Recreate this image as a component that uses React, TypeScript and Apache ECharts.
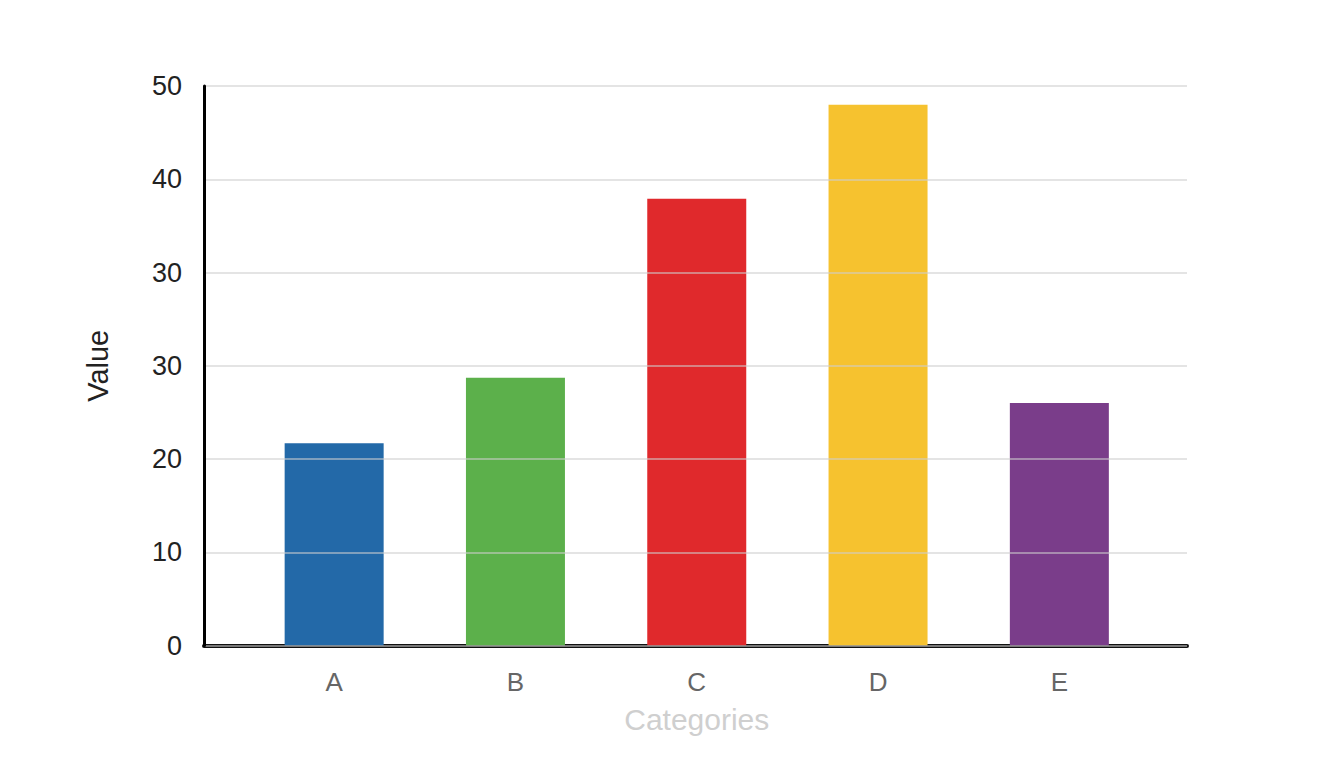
import React, { useEffect, useRef } from 'react';
import * as echarts from 'echarts';

const categories = ['A', 'B', 'C', 'D', 'E'];
// bar heights in axis units (one gridline step = 10)
const values = [21.7, 28.7, 47.9, 58.0, 26.0];
const barColors = ['#2369a8', '#5cb04b', '#e0292c', '#f6c22f', '#7a3d8a'];
// the tick labels as printed on the original (note the repeated 30)
const tickLabels = ['0', '10', '20', '30', '30', '40', '50'];

const FONT = '"Liberation Sans", Arial, Helvetica, sans-serif';

const App: React.FC = () => {
  const chartRef = useRef<HTMLDivElement>(null);

  useEffect(() => {
    if (!chartRef.current) return;
    const chart = echarts.init(chartRef.current, undefined, { renderer: 'svg' });

    const option = {
      animation: false,
      backgroundColor: '#ffffff',
      textStyle: { fontFamily: FONT },
      grid: [
        // outer frame: axis lines, gridlines, y labels
        { left: 204, right: 157, top: 86, bottom: 122.5 },
        // inner band holding the bars
        { left: 243.5, right: 194, top: 86, bottom: 122.5 }
      ],
      xAxis: [
        {
          gridIndex: 0,
          type: 'value',
          min: 0,
          max: 1,
          axisLine: { show: true, lineStyle: { color: '#111111', width: 4 } },
          axisTick: { show: false },
          axisLabel: { show: false },
          splitLine: { show: false }
        },
        {
          gridIndex: 1,
          type: 'category',
          data: categories,
          axisLine: { show: false },
          axisTick: { show: false },
          axisLabel: { color: '#666666', fontSize: 26, margin: 23, fontFamily: FONT },
          name: 'Categories',
          nameLocation: 'middle',
          nameGap: 59,
          nameTextStyle: { color: '#cfcfcf', fontSize: 30, fontFamily: FONT }
        }
      ],
      yAxis: [
        {
          gridIndex: 0,
          type: 'value',
          min: 0,
          max: 60,
          interval: 10,
          z: 5,
          axisLine: { show: true, lineStyle: { color: '#000000', width: 3 } },
          axisTick: { show: false },
          axisLabel: {
            color: '#222222',
            fontSize: 27,
            margin: 22,
            fontFamily: FONT,
            formatter: (v: number) => tickLabels[Math.round(v / 10)]
          },
          splitLine: { show: true, lineStyle: { color: 'rgba(205,205,205,0.55)', width: 2 } },
          name: 'Value',
          nameLocation: 'middle',
          nameRotate: 90,
          nameGap: 92,
          nameTextStyle: { color: '#222222', fontSize: 29, fontFamily: FONT }
        },
        {
          gridIndex: 1,
          type: 'value',
          min: 0,
          max: 60,
          show: false
        }
      ],
      series: [
        {
          type: 'bar',
          xAxisIndex: 1,
          yAxisIndex: 1,
          barWidth: 99,
          z: 2,
          data: values.map((v, i) => ({ value: v, itemStyle: { color: barColors[i] } }))
        }
      ]
    };

    chart.setOption(option);

    return () => {
      chart.dispose();
    };
  }, []);

  return (
    <div
      ref={chartRef}
      style={{ position: 'fixed', left: 0, top: 0, width: '1344px', height: '768px' }}
    />
  );
};

export default App;
